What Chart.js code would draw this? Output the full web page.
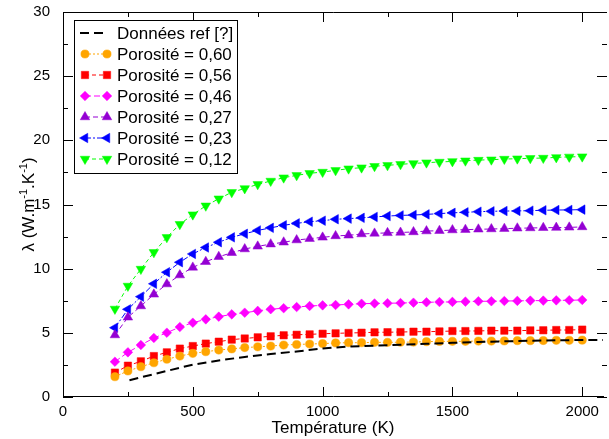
<!DOCTYPE html>
<html lang="fr">
<head>
<meta charset="UTF-8">
<title>Conductivité thermique</title>
<script src="https://cdn.jsdelivr.net/npm/chart.js"></script>
<style>
  html, body { margin: 0; padding: 0; background: #fff; overflow: hidden; }
  canvas { display: block; }
</style>
</head>
<body>
<canvas id="lambdaChart" width="609" height="439"></canvas>
<script>
// temperatures des points calcules (K)
const temperatures = [200, 250, 300, 350, 400, 450, 500, 550, 600, 650, 700, 750, 800, 850, 900, 950, 1000, 1050, 1100, 1150, 1200, 1250, 1300, 1350, 1400, 1450, 1500, 1550, 1600, 1650, 1700, 1750, 1800, 1850, 1900, 1950, 2000];

const poro060 = [1.58, 2.03, 2.36, 2.67, 2.94, 3.19, 3.40, 3.53, 3.66, 3.75, 3.85, 3.91, 3.97, 4.05, 4.09, 4.13, 4.16, 4.21, 4.23, 4.23, 4.26, 4.26, 4.27, 4.28, 4.31, 4.33, 4.34, 4.34, 4.36, 4.36, 4.37, 4.39, 4.39, 4.40, 4.42, 4.42, 4.43];
const poro056 = [1.90, 2.44, 2.78, 3.19, 3.48, 3.77, 3.97, 4.16, 4.31, 4.47, 4.56, 4.65, 4.73, 4.81, 4.85, 4.88, 4.93, 4.96, 4.99, 5.01, 5.04, 5.05, 5.06, 5.09, 5.09, 5.11, 5.14, 5.14, 5.15, 5.17, 5.17, 5.17, 5.19, 5.20, 5.22, 5.22, 5.25];
const poro046 = [2.75, 3.48, 4.05, 4.60, 5.01, 5.45, 5.79, 6.05, 6.26, 6.44, 6.57, 6.71, 6.84, 6.92, 7.01, 7.09, 7.14, 7.17, 7.22, 7.27, 7.29, 7.31, 7.32, 7.35, 7.38, 7.40, 7.41, 7.43, 7.46, 7.46, 7.48, 7.49, 7.51, 7.51, 7.53, 7.54, 7.56];
const poro027 = [4.83, 6.21, 7.09, 8.00, 8.80, 9.50, 10.10, 10.54, 10.93, 11.24, 11.53, 11.74, 11.91, 12.06, 12.23, 12.34, 12.44, 12.55, 12.60, 12.70, 12.75, 12.79, 12.82, 12.86, 12.93, 12.96, 13.01, 13.04, 13.07, 13.09, 13.12, 13.15, 13.17, 13.19, 13.20, 13.22, 13.25];
const poro023 = [5.40, 6.83, 7.82, 8.82, 9.72, 10.50, 11.15, 11.65, 12.06, 12.44, 12.72, 12.98, 13.18, 13.38, 13.53, 13.66, 13.74, 13.85, 13.90, 13.96, 14.03, 14.10, 14.15, 14.18, 14.23, 14.29, 14.35, 14.39, 14.44, 14.47, 14.49, 14.50, 14.52, 14.55, 14.57, 14.58, 14.60];
const poro012 = [6.86, 8.65, 9.97, 11.27, 12.44, 13.46, 14.21, 14.90, 15.45, 15.95, 16.25, 16.57, 16.83, 17.09, 17.27, 17.43, 17.53, 17.66, 17.79, 17.87, 17.98, 18.05, 18.13, 18.20, 18.26, 18.31, 18.36, 18.41, 18.46, 18.49, 18.54, 18.57, 18.60, 18.62, 18.67, 18.71, 18.73];

// donnees de reference
const refTemps = [256, 300, 400, 500, 600, 700, 800, 900, 1000, 1100, 1200, 1300, 1400, 1500, 1600, 1700, 1800, 1900, 2000, 2080];
const refLambda = [1.30, 1.53, 2.03, 2.52, 2.85, 3.12, 3.35, 3.55, 3.78, 3.93, 4.00, 4.07, 4.15, 4.22, 4.29, 4.34, 4.38, 4.42, 4.44, 4.45];

const xTicks = [0, 500, 1000, 1500, 2000];
const xMinor = [250, 750, 1250, 1750];
const yTicks = [0, 5, 10, 15, 20, 25, 30];
const yMinor = [2.5, 7.5, 12.5, 17.5, 22.5, 27.5];

function pts(xs, ys) {
    return ys.map((v, i) => ({ x: xs[i], y: v }));
}

function serie(label, values, color, style, rot, radius, dash) {
    return {
        label: label,
        data: pts(temperatures, values),
        borderColor: color,
        backgroundColor: color,
        borderWidth: 1,
        borderDash: dash,
        pointStyle: style,
        pointRotation: rot,
        pointRadius: radius,
        pointBorderWidth: 0.5,
        pointBorderColor: color,
        pointBackgroundColor: color
    };
}

const datasets = [
    {
        label: 'Données ref [?]',
        data: pts(refTemps, refLambda),
        borderColor: '#000',
        borderWidth: 2,
        borderDash: [9, 5],
        pointRadius: 0
    },
    serie('Porosité = 0,60', poro060, '#ffa500', 'circle', 0, 4.1, [2, 2]),
    serie('Porosité = 0,56', poro056, '#ff0000', 'rect', 0, 5.2, [4, 3]),
    serie('Porosité = 0,46', poro046, '#ff00ff', 'rectRot', 0, 4.8, [6, 3]),
    serie('Porosité = 0,27', poro027, '#9400d3', 'triangle', 0, 5.5, [5, 3]),
    serie('Porosité = 0,23', poro023, '#0000ff', 'triangle', -90, 5.5, [6, 2, 2, 2]),
    serie('Porosité = 0,12', poro012, '#00ff00', 'triangle', 180, 5.5, [4, 3])
];

// cadre + graduations vers l'interieur
// (le bord droit du cadre est hors de l'image : seules les graduations en depassent)
const cadre = {
    id: 'cadre',
    afterDatasetsDraw(chart) {
        const ctx = chart.ctx, a = chart.chartArea;
        const sx = chart.scales.x, sy = chart.scales.y;
        const droite = a.right + 4;
        ctx.save();
        ctx.strokeStyle = '#000';
        ctx.lineWidth = 1;
        ctx.beginPath();
        ctx.moveTo(a.right + 1, a.top + 0.5);
        ctx.lineTo(a.left + 0.5, a.top + 0.5);
        ctx.lineTo(a.left + 0.5, a.bottom - 0.5);
        ctx.lineTo(a.right + 1, a.bottom - 0.5);
        const tx = (v, len) => {
            const p = Math.round(sx.getPixelForValue(v)) + 0.5;
            ctx.moveTo(p, a.bottom); ctx.lineTo(p, a.bottom - len);
            ctx.moveTo(p, a.top); ctx.lineTo(p, a.top + len);
        };
        const ty = (v, len) => {
            const p = Math.round(sy.getPixelForValue(v)) + 0.5;
            ctx.moveTo(a.left, p); ctx.lineTo(a.left + len, p);
            ctx.moveTo(droite, p); ctx.lineTo(droite - len, p);
        };
        xTicks.forEach(v => tx(v, 10));
        xMinor.forEach(v => tx(v, 5));
        yTicks.forEach(v => ty(v, 10));
        yMinor.forEach(v => ty(v, 5));
        ctx.stroke();
        ctx.restore();
    }
};

// titre axe y avec exposants
const titreY = {
    id: 'titreY',
    afterDraw(chart) {
        const ctx = chart.ctx;
        const parts = [
            ['λ (W.m', false], ['-1', true], ['.K', false], ['-1', true], [')', false]
        ];
        const big = '17px "Liberation Sans", Arial, sans-serif';
        const small = '11px "Liberation Sans", Arial, sans-serif';
        let total = 0;
        parts.forEach(p => { ctx.font = p[1] ? small : big; total += ctx.measureText(p[0]).width; });
        ctx.save();
        ctx.translate(34, (chart.chartArea.top + chart.chartArea.bottom) / 2);
        ctx.rotate(-Math.PI / 2);
        ctx.fillStyle = '#000';
        ctx.textBaseline = 'alphabetic';
        let x = -total / 2;
        parts.forEach(p => {
            ctx.font = p[1] ? small : big;
            ctx.fillText(p[0], x, p[1] ? -7 : 0);
            x += ctx.measureText(p[0]).width;
        });
        ctx.restore();
    }
};

// legende encadree
const legende = {
    id: 'legende',
    afterDraw(chart) {
        const ctx = chart.ctx;
        const bx = 74, by = 20, bw = 163, bh = 153;
        ctx.save();
        ctx.fillStyle = '#fff';
        ctx.fillRect(bx, by, bw, bh);
        ctx.strokeStyle = '#000';
        ctx.lineWidth = 1;
        ctx.strokeRect(bx + 0.5, by + 0.5, bw, bh);
        chart.data.datasets.forEach((ds, i) => {
            const y = 33 + i * 21;
            ctx.save();
            ctx.strokeStyle = ds.borderColor;
            ctx.lineWidth = ds.borderWidth;
            ctx.setLineDash(ds.borderDash || []);
            ctx.beginPath();
            if (i === 0) {
                ctx.moveTo(80, y); ctx.lineTo(106, y);
            } else {
                ctx.moveTo(85, y); ctx.lineTo(107, y);
            }
            ctx.stroke();
            ctx.restore();
            if (ds.pointRadius > 0) {
                ctx.fillStyle = ds.pointBackgroundColor;
                ctx.strokeStyle = ds.pointBorderColor;
                ctx.lineWidth = ds.pointBorderWidth;
                const opt = { pointStyle: ds.pointStyle, radius: ds.pointRadius, rotation: ds.pointRotation, borderWidth: ds.pointBorderWidth };
                Chart.helpers.drawPoint(ctx, opt, 85, y);
                Chart.helpers.drawPoint(ctx, opt, 107, y);
            }
            ctx.fillStyle = '#000';
            ctx.font = '17px "Liberation Sans", Arial, sans-serif';
            ctx.textBaseline = 'middle';
            ctx.textAlign = 'left';
            ctx.fillText(ds.label, 117, y + 1);
        });
        ctx.restore();
    }
};

const ctx = document.getElementById('lambdaChart').getContext('2d');
new Chart(ctx, {
    type: 'line',
    data: { datasets: datasets },
    options: {
        responsive: false,
        animation: false,
        layout: { padding: { top: 12, right: 1, left: 0, bottom: 0 } },
        plugins: { legend: { display: false }, tooltip: { enabled: false } },
        scales: {
            x: {
                type: 'linear',
                min: 0,
                max: 2080,
                afterFit(scale) {
                    scale.height = 42;
                    scale.paddingLeft = 0;
                    scale.paddingRight = 0;
                },
                afterBuildTicks(scale) { scale.ticks = xTicks.map(v => ({ value: v })); },
                grid: { display: false },
                border: { display: false },
                ticks: {
                    padding: -2,
                    color: '#000',
                    maxRotation: 0,
                    callback: v => String(v),
                    font: { family: '"Liberation Sans", Arial, sans-serif', size: 15 }
                },
                title: {
                    display: true,
                    text: 'Température (K)',
                    color: '#000',
                    padding: { top: 0, bottom: 0 },
                    font: { family: '"Liberation Sans", Arial, sans-serif', size: 17 }
                }
            },
            y: {
                min: 0,
                max: 30,
                afterFit(scale) {
                    scale.width = 63;
                    scale.paddingTop = 0;
                    scale.paddingBottom = 0;
                },
                afterBuildTicks(scale) { scale.ticks = yTicks.map(v => ({ value: v })); },
                grid: { display: false },
                border: { display: false },
                ticks: {
                    padding: 5,
                    color: '#000',
                    callback: v => String(v),
                    font: { family: '"Liberation Sans", Arial, sans-serif', size: 15 }
                }
            }
        }
    },
    plugins: [cadre, titreY, legende]
});
</script>
</body>
</html>
